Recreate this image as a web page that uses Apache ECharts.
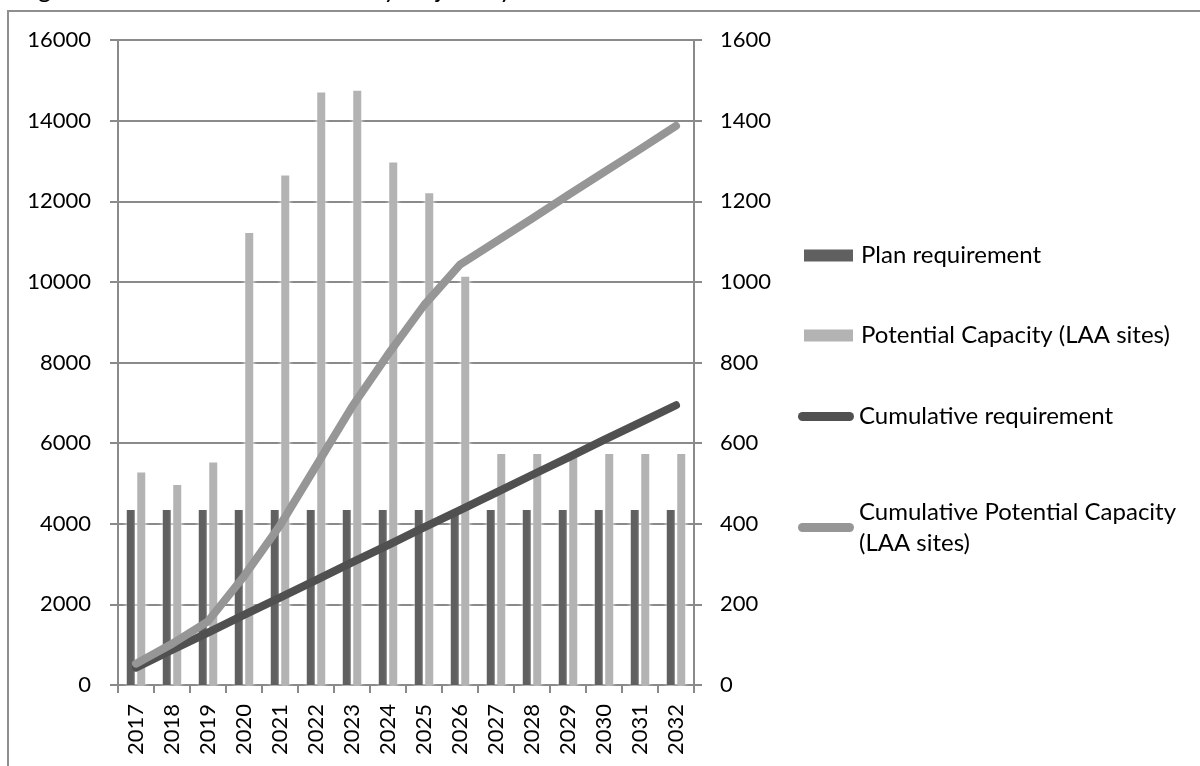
<!DOCTYPE html>
<html><head><meta charset="utf-8">
<script src="https://cdn.jsdelivr.net/npm/echarts@6/dist/echarts.min.js"></script>
<style>html,body{margin:0;padding:0;background:#fff;overflow:hidden}#c{width:1200px;height:766px}</style>
</head><body><div id="c"></div>
<script>
// ---- data ----
const years = ['2017','2018','2019','2020','2021','2022','2023','2024','2025','2026','2027','2028','2029','2030','2031','2032'];
const planRequirement = [4340,4340,4340,4340,4340,4340,4340,4340,4340,4340,4340,4340,4340,4340,4340,4340];
const potentialCapacity = [5270,4960,5520,11210,12640,14700,14740,12960,12200,10130,5730,5730,5730,5730,5730,5730];
const cumulativeRequirement = [43,87,130,174,217,260,304,347,391,434,477,521,564,608,651,694];
const cumulativePotential = [53,102,158,270,396,543,690,820,942,1043,1100,1157,1215,1272,1329,1387];
const leftAxis = {min: 0, max: 16000, interval: 2000};
const rightAxis = {min: 0, max: 1600, interval: 200};
const seriesNames = ['Plan requirement','Potential Capacity (LAA sites)','Cumulative requirement','Cumulative Potential Capacity (LAA sites)'];
const titleText = 'Figure 5: Cumulative Plan Delivery Trajectory';

const FONT = 'Lato';
const GRID = '#8a8a8a';
const chart = echarts.init(document.getElementById('c'), null, {renderer: 'canvas'});
const pill = 'path://M4.5,0 L51.5,0 A4.5,4.5 0 0 1 51.5,9 L4.5,9 A4.5,4.5 0 0 1 4.5,0 Z';
const plain = function (v) { return String(v); };

chart.setOption({
  animation: false,
  backgroundColor: '#fff',
  textStyle: {fontFamily: FONT},
  graphic: [
    {type: 'rect', shape: {x: 8, y: 11, width: 1300, height: 900}, style: {fill: 'none', stroke: '#8f8f8f', lineWidth: 2}, silent: true},
    {type: 'text', x: 18, y: 2, style: {text: titleText, font: '25px ' + FONT, fill: '#000', verticalAlign: 'bottom'}, silent: true}
  ],
  grid: {left: 118, right: 506, top: 40, bottom: 81, containLabel: false},
  legend: [
    {
      orient: 'vertical', left: 804, top: 240, padding: 0, itemGap: 49,
      itemWidth: 49, itemHeight: 12,
      textStyle: {fontFamily: FONT, fontSize: 24, color: '#000', lineHeight: 31, padding: [0, 0, 0, 3]},
      data: [{name: seriesNames[0], icon: 'rect'}, {name: seriesNames[1], icon: 'rect'}]
    },
    {
      orient: 'vertical', left: 798, top: 401, padding: 0, itemGap: 49,
      itemWidth: 56, itemHeight: 9,
      textStyle: {fontFamily: FONT, fontSize: 24, color: '#000', lineHeight: 31},
      formatter: function (n) { return n === seriesNames[3] ? 'Cumulative Potential Capacity\n(LAA sites)' : n; },
      data: [
        {name: seriesNames[2], icon: pill},
        {name: seriesNames[3], icon: pill, textStyle: {padding: [31, 0, 0, 0]}}
      ]
    }
  ],
  xAxis: {
    type: 'category', data: years, boundaryGap: true,
    axisLine: {lineStyle: {color: GRID, width: 2}},
    axisTick: {show: true, length: 8, lineStyle: {color: GRID, width: 2}},
    axisLabel: {rotate: 90, margin: 19, fontSize: 22, color: '#000', fontFamily: FONT},
    splitLine: {show: false}
  },
  yAxis: [
    {
      type: 'value', position: 'left', min: leftAxis.min, max: leftAxis.max, interval: leftAxis.interval,
      axisLine: {show: true, lineStyle: {color: GRID, width: 2}},
      axisTick: {show: true, length: 8, lineStyle: {color: GRID, width: 2}},
      axisLabel: {margin: 27, fontSize: 22, color: '#000', fontFamily: FONT, formatter: plain},
      splitLine: {show: true, lineStyle: {color: GRID, width: 2}}
    },
    {
      type: 'value', position: 'right', min: rightAxis.min, max: rightAxis.max, interval: rightAxis.interval,
      axisLine: {show: true, lineStyle: {color: GRID, width: 2}},
      axisTick: {show: true, length: 8, lineStyle: {color: GRID, width: 2}},
      axisLabel: {margin: 26, fontSize: 22, color: '#000', fontFamily: FONT, formatter: plain},
      splitLine: {show: false}
    }
  ],
  series: [
    {name: seriesNames[0], type: 'bar', yAxisIndex: 0, data: planRequirement, barWidth: 8, barGap: '31%',
     itemStyle: {color: '#606060', shadowColor: 'rgba(255,255,255,1)', shadowBlur: 4}},
    {name: seriesNames[1], type: 'bar', yAxisIndex: 0, data: potentialCapacity, barWidth: 8, barGap: '31%',
     itemStyle: {color: '#b3b3b3', shadowColor: 'rgba(255,255,255,1)', shadowBlur: 4}},
    {name: seriesNames[2], type: 'line', yAxisIndex: 1, data: cumulativeRequirement, symbol: 'none',
     lineStyle: {color: '#505050', width: 8, cap: 'round', join: 'round'}, itemStyle: {color: '#505050'}},
    {name: seriesNames[3], type: 'line', yAxisIndex: 1, data: cumulativePotential, symbol: 'none',
     lineStyle: {color: '#969696', width: 8, cap: 'round', join: 'round'}, itemStyle: {color: '#969696'}}
  ]
});
</script></body></html>
